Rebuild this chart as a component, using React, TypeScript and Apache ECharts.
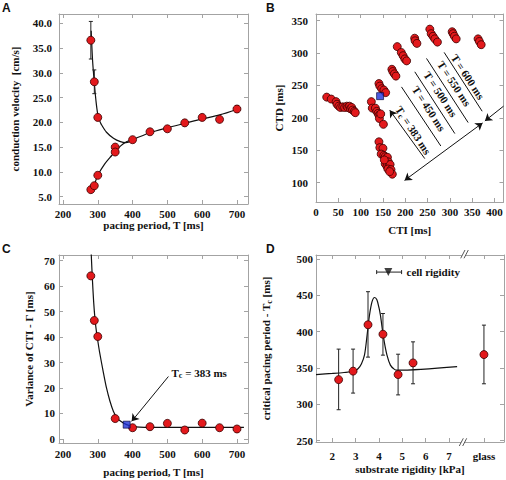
import React, { useEffect, useRef } from "react";
import * as echarts from "echarts";

// ---------- Panel A: conduction velocity vs pacing period ----------
const aPeriodUpper = [280, 290, 300, 350];
const aVelocityUpper = [36.6, 28.2, 21.0, 15.0];
const aPeriodLower = [280, 290, 300, 350];
const aVelocityLower = [6.4, 7.2, 9.3, 14.0];
const aPeriodShared = [400, 450, 500, 550, 600, 650, 700];
const aVelocityShared = [16.5, 18.1, 18.7, 19.9, 21.0, 20.6, 22.7];
const aErrPeriod = [280, 290, 550, 700];
const aErrLow = [32.8, 25.8, 19.3, 22.1];
const aErrHigh = [40.4, 30.6, 20.5, 23.4];
const aFitUpper = [[281, 38.5], [285, 32.5], [290, 28.0], [295, 24.2], [300, 21.6], [305, 20.4], [310, 19.6], [325, 18.0], [345, 16.8], [365, 16.1], [380, 15.9], [392, 16.1], [400, 16.5]];
const aFitLower = [[279, 5.7], [290, 7.4], [300, 9.3], [320, 11.6], [340, 13.3], [350, 14.1], [365, 15.2], [380, 16.0], [390, 16.3], [400, 16.5]];
const aFitShared = [[400, 16.5], [450, 17.9], [500, 18.9], [550, 19.8], [600, 20.7], [650, 21.5], [700, 22.6]];
const aTicksX = [200, 300, 400, 500, 600, 700];
const aTicksY = [5, 10, 15, 20, 25, 30, 35, 40];

// ---------- Panel B: CTD vs CTI ----------
const bCTI = [
  24, 34, 45, 47, 51, 55, 60, 64, 69, 71, 75, 77, 80, 82, 86, 88,
  124, 126, 133, 136, 139, 141, 142, 145, 151,
  141, 143, 150, 146, 152, 155, 157, 160, 162, 155, 159, 163, 166, 161, 168, 171, 165, 153,
  141, 143, 147, 152, 156,
  170, 172, 175.5, 179,
  182, 191, 195, 199, 203,
  221, 222, 226,
  255, 258, 262, 266, 272,
  305, 307, 310, 314,
  363, 366, 370,
];
const bCTD = [
  232, 229, 225, 221, 218, 216, 217, 216, 218, 216, 218, 214, 216, 212, 210, 208,
  225, 215, 215, 210, 207, 204, 199, 206, 190,
  163, 154, 153, 144, 142, 140, 136, 139, 132, 129, 125, 124, 128, 121, 120, 113, 117, 135,
  253, 249, 245, 243, 239,
  275, 271.5, 268, 264.5,
  310, 301, 296, 291, 288,
  323, 319, 315,
  337, 330, 326, 322, 317,
  333, 330, 326, 322,
  322, 318, 313,
];
const bCriticalCTI = [143.6];
const bCriticalCTD = [233.5];
const bTicksX = [0, 50, 100, 150, 200, 250, 300, 350, 400];
const bTicksY = [100, 150, 200, 250, 300, 350];

// ---------- Panel C: variance of CTI ----------
const cPeriod = [280, 290, 300, 350, 400, 450, 500, 550, 600, 650, 700];
const cVariance = [64.0, 46.5, 40.2, 8.0, 4.4, 4.8, 6.1, 3.5, 6.2, 4.4, 3.9];
const cCriticalPeriod = [383];
const cCriticalVariance = [5.6];
const cFit = [[281, 73], [284, 64], [288, 54], [292, 47], [296, 42.2], [300, 38.5], [305, 34.2], [315, 26.8], [325, 20], [335, 14.8], [345, 10.8], [355, 8.4], [365, 7.0], [383, 5.6], [400, 4.9], [420, 4.6], [450, 4.5], [720, 4.5]];
const cTicksX = [200, 300, 400, 500, 600, 700];
const cTicksY = [0, 10, 20, 30, 40, 50, 60, 70];

// ---------- Panel D: critical pacing period vs substrate rigidity ----------
const dRigidity = [2.27, 2.89, 3.53, 4.17, 4.82, 5.46, 8.5];
const dCritical = [334, 345.7, 409.5, 396.5, 341, 357, 368.5];
const dLow = [292.6, 315.5, 365, 367.7, 313, 328.3, 328.3];
const dHigh = [376, 376, 455, 425, 369, 386, 409];
const dFit = [[1.3, 341], [2.0, 342.5], [2.5, 343.8], [2.9, 345.5], [3.1, 349], [3.25, 356], [3.38, 368], [3.49, 395], [3.59, 422], [3.7, 441], [3.81, 447], [3.91, 444], [4.0, 433], [4.06, 423], [4.2, 391], [4.34, 368], [4.49, 354], [4.65, 348.5], [4.77, 347], [7.35, 352]];
const dCellRigidity = [4.4];
const dCellLow = [3.9];
const dCellHigh = [4.97];
const dCellLevel = [482];
const dTicksX = [2, 3, 4, 5, 6, 7, 8.5];
const dTicksY = [250, 300, 350, 400, 450, 500];

const SERIF = "Liberation Serif, Times New Roman, serif";
const SANS = "Liberation Sans, Arial, sans-serif";
const FRAME = "#a3a3a3";
const INK = "#111111";
const RED = "#e3191c";
const BLUE = "#1f32d8";

const labelFont = { fontFamily: SERIF, fontWeight: "bold" as const, fontSize: 11, color: INK };
const richSub = {
  n: { fontFamily: SERIF, fontWeight: "bold", fontSize: 11, color: INK, fill: INK },
  s: { fontFamily: SERIF, fontWeight: "bold", fontSize: 8, color: INK, fill: INK, padding: [6, 0, 0, 0] },
};

function xAxes(grid: number, min: number, max: number, ticks: number[], name: string, nameGap: number, margin: number, formatter?: any) {
  const base = {
    type: "value", gridIndex: grid, min, max,
    splitLine: { show: false },
    axisLine: { show: true, onZero: false, lineStyle: { color: FRAME, width: 1 } },
    axisTick: { show: true, inside: true, length: 4, customValues: ticks, lineStyle: { color: FRAME } },
  };
  return [
    {
      ...base, position: "bottom", name, nameLocation: "middle", nameGap,
      nameTextStyle: { ...labelFont },
      axisLabel: { show: true, customValues: ticks, margin, ...labelFont, formatter },
    },
    { ...base, position: "top", axisLabel: { show: false } },
  ];
}

function yAxes(grid: number, min: number, max: number, ticks: number[], name: string, nameGap: number, margin: number, formatter?: any, rich?: any) {
  const base = {
    type: "value", gridIndex: grid, min, max,
    splitLine: { show: false },
    axisLine: { show: true, onZero: false, lineStyle: { color: FRAME, width: 1 } },
    axisTick: { show: true, inside: true, length: 4, customValues: ticks, lineStyle: { color: FRAME } },
  };
  return [
    {
      ...base, position: "left", name, nameLocation: "middle", nameGap,
      nameTextStyle: { ...labelFont, rich },
      axisLabel: { show: true, customValues: ticks, margin, ...labelFont, formatter },
    },
    { ...base, position: "right", axisLabel: { show: false } },
  ];
}

const vErr = (params: any, api: any) => {
  const x = api.value(0);
  const a = api.coord([x, api.value(1)]);
  const b = api.coord([x, api.value(2)]);
  const c = 2;
  const st = { stroke: "#222", lineWidth: 1 };
  return {
    type: "group",
    children: [
      { type: "line", shape: { x1: a[0], y1: a[1], x2: b[0], y2: b[1] }, style: st },
      { type: "line", shape: { x1: a[0] - c, y1: a[1], x2: a[0] + c, y2: a[1] }, style: st },
      { type: "line", shape: { x1: b[0] - c, y1: b[1], x2: b[0] + c, y2: b[1] }, style: st },
    ],
  };
};

const hErr = (params: any, api: any) => {
  const y = api.value(2);
  const a = api.coord([api.value(0), y]);
  const b = api.coord([api.value(1), y]);
  const c = 2;
  const st = { stroke: "#222", lineWidth: 1 };
  return {
    type: "group",
    children: [
      { type: "line", shape: { x1: a[0], y1: a[1], x2: b[0], y2: b[1] }, style: st },
      { type: "line", shape: { x1: a[0], y1: a[1] - c, x2: a[0], y2: a[1] + c }, style: st },
      { type: "line", shape: { x1: b[0], y1: b[1] - c, x2: b[0], y2: b[1] + c }, style: st },
    ],
  };
};

const fitLine = (xi: number, data: number[][]) => ({
  type: "line", xAxisIndex: xi, yAxisIndex: xi, data, showSymbol: false, smooth: 0.3,
  lineStyle: { color: INK, width: 1.2 }, z: 2, silent: true,
});

const redDots = (xi: number, data: number[][]) => ({
  type: "scatter", xAxisIndex: xi, yAxisIndex: xi, data, symbol: "circle", symbolSize: 8,
  itemStyle: { color: RED, borderColor: "#3a0000", borderWidth: 0.8, opacity: 1 }, z: 5,
});

const pairs = (xs: number[], ys: number[]) => xs.map((x, i) => [x, ys[i]]);

const arrowLines = (xi: number, data: number[][][], symbol: string[]) => ({
  type: "lines", coordinateSystem: "cartesian2d", xAxisIndex: xi, yAxisIndex: xi,
  data: data.map((c) => ({ coords: c })), symbol, symbolSize: 7,
  lineStyle: { color: INK, width: 1, opacity: 1 }, z: 3, silent: true,
});

// labels sit beside the lines, shifted perpendicular (up-right)
const rotText = (x: number, y: number, text: string) => ({
  type: "text", x: x + 2.2, y: y - 1.5, rotation: -0.99,
  style: { text, align: "center", verticalAlign: "middle", rich: richSub },
});

const letter = (x: number, y: number, t: string) => ({
  type: "text", x, y,
  style: { text: t, fill: INK, font: `bold 12px ${SANS}`, align: "left", verticalAlign: "middle" },
});

export default function App() {
  const ref = useRef<HTMLDivElement>(null);
  useEffect(() => {
    if (!ref.current) return;
    const chart = echarts.init(ref.current, null, { renderer: "svg" });
    const grid = (left: number, top: number, width: number, height: number) => ({
      left, top, width, height, containLabel: false, outerBoundsMode: "none", show: false,
    });
    const option: any = {
      animation: false,
      backgroundColor: "#ffffff",
      textStyle: { fontFamily: SERIF },
      grid: [grid(59, 14, 189, 190), grid(316, 14, 187.5, 188), grid(59, 255, 189, 188), grid(316, 255, 188, 187)],
      xAxis: [
        ...xAxes(0, 188.5, 731.7, aTicksX, "pacing period, T [ms]", 12, 4),
        ...xAxes(1, 0, 420, bTicksX, "CTI [ms]", 22, 4),
        ...xAxes(2, 188.5, 731.7, cTicksX, "pacing period, T [ms]", 23, 5),
        ...xAxes(3, 1.3, 9.36, dTicksX, "substrate rigidity [kPa]", 21, 8, (v: number) => (v === 8.5 ? "glass" : String(v))),
      ],
      yAxis: [
        ...yAxes(0, 3.5, 41.9, aTicksY, "conduction velocity  [cm/s]", 39, 7, (v: number) => v.toFixed(1)),
        ...yAxes(1, 70, 360.4, bTicksY, "CTD [ms]", 32, 8),
        ...yAxes(2, -1.6, 72.2, cTicksY, "Variance of CTI - Γ [ms]", 25, 4),
        ...yAxes(3, 248.2, 505.5, dTicksY, "{n|critical pacing period - T}{s|c}{n| [ms]}", 43, 3, undefined, richSub),
      ],
      series: [
        // A
        fitLine(0, aFitUpper),
        fitLine(0, aFitLower),
        fitLine(0, aFitShared),
        {
          type: "custom", xAxisIndex: 0, yAxisIndex: 0, renderItem: vErr, encode: { x: 0, y: [1, 2] },
          data: aErrPeriod.map((t, i) => [t, aErrLow[i], aErrHigh[i]]), z: 3, silent: true,
        },
        redDots(0, [...pairs(aPeriodUpper, aVelocityUpper), ...pairs(aPeriodLower, aVelocityLower), ...pairs(aPeriodShared, aVelocityShared)]),
        // B
        arrowLines(2, [
          [[287.0, 301.1], [372.2, 210.2]],
          [[247.5, 291.8], [340.8, 192.7]],
          [[221.3, 271.1], [311.0, 175.7]],
          [[191.5, 247.8], [279.6, 156.5]],
        ], ["none", "none"]),
        arrowLines(2, [[[243.7, 137.0], [165.2, 211.8]]], ["none", "arrow"]),
        arrowLines(2, [[[198.4, 103.4], [373.1, 192.1]]], ["arrow", "arrow"]),
        arrowLines(2, [[[420, 218], [378.3, 195.2]]], ["none", "arrow"]),
        redDots(2, pairs(bCTI, bCTD)),
        {
          type: "scatter", xAxisIndex: 2, yAxisIndex: 2, data: pairs(bCriticalCTI, bCriticalCTD), symbol: "rect", symbolSize: 7,
          itemStyle: { color: BLUE, borderColor: "#000033", borderWidth: 0.8 }, z: 6,
        },
        // C
        fitLine(4, cFit),
        arrowLines(4, [[[502.9, 24.5], [397.3, 6.9]]], ["none", "arrow"]),
        redDots(4, pairs(cPeriod, cVariance)),
        {
          type: "scatter", xAxisIndex: 4, yAxisIndex: 4, data: pairs(cCriticalPeriod, cCriticalVariance), symbol: "rect", symbolSize: 7,
          itemStyle: { color: BLUE, borderColor: "#000033", borderWidth: 0.8 }, z: 6,
        },
        // D
        fitLine(6, dFit),
        {
          type: "custom", xAxisIndex: 6, yAxisIndex: 6, renderItem: vErr, encode: { x: 0, y: [1, 2] },
          data: dRigidity.map((r, i) => [r, dLow[i], dHigh[i]]), z: 3, silent: true,
        },
        redDots(6, pairs(dRigidity, dCritical)),
        {
          type: "custom", xAxisIndex: 6, yAxisIndex: 6, renderItem: hErr, encode: { x: [0, 1], y: 2 },
          data: dCellRigidity.map((r, i) => [dCellLow[i], dCellHigh[i], dCellLevel[i]]), z: 3, silent: true,
        },
        {
          type: "scatter", xAxisIndex: 6, yAxisIndex: 6, data: pairs(dCellRigidity, dCellLevel), symbol: "triangle", symbolRotate: 180, symbolSize: 8,
          itemStyle: { color: INK }, z: 6,
        },
      ],
      graphic: [
        letter(2, 7.5, "A"),
        letter(266, 7.5, "B"),
        letter(2, 249, "C"),
        letter(266, 249, "D"),
        rotText(465.7, 78.3, "{n|T = 600 ms}"),
        rotText(452, 85, "{n|T = 550 ms}"),
        rotText(438.3, 95.7, "{n|T = 500 ms}"),
        rotText(426.7, 110, "{n|T = 450 ms}"),
        rotText(411, 131.7, "{n|T}{s|c}{n| = 383 ms}"),
        {
          type: "text", x: 171.5, y: 372.7,
          style: { text: "{n|T}{s|c}{n| = 383 ms}", align: "left", verticalAlign: "middle", rich: richSub },
        },
        {
          type: "text", x: 406.5, y: 272,
          style: { text: "cell rigidity", fill: INK, font: `bold 11px ${SERIF}`, align: "left", verticalAlign: "middle" },
        },
        // axis break marks in D
        { type: "rect", shape: { x: 461.8, y: 253, width: 3.5, height: 4 }, style: { fill: "#fff" }, z: 100 },
        { type: "line", shape: { x1: 460.7, y1: 258.3, x2: 465, y2: 250 }, style: { stroke: "#444", lineWidth: 0.9 }, z: 101 },
        { type: "line", shape: { x1: 464, y1: 258.3, x2: 468.3, y2: 250 }, style: { stroke: "#444", lineWidth: 0.9 }, z: 101 },
        { type: "rect", shape: { x: 461, y: 440.3, width: 3.5, height: 4 }, style: { fill: "#fff" }, z: 100 },
        { type: "line", shape: { x1: 459.3, y1: 446, x2: 463.3, y2: 438.3 }, style: { stroke: "#444", lineWidth: 0.9 }, z: 101 },
        { type: "line", shape: { x1: 462.7, y1: 446, x2: 466.7, y2: 438.3 }, style: { stroke: "#444", lineWidth: 0.9 }, z: 101 },
      ],
    };
    chart.setOption(option);
    return () => chart.dispose();
  }, []);
  return <div ref={ref} style={{ position: "absolute", left: 0, top: 0, width: 506, height: 480 }} />;
}
